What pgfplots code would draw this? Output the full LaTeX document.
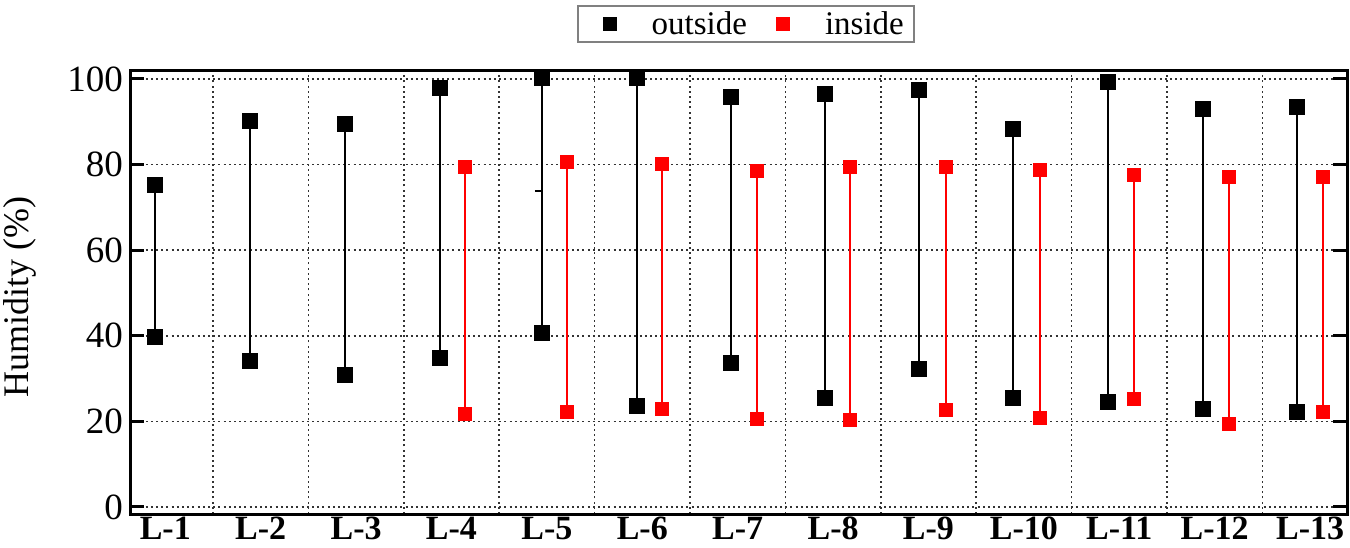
\documentclass[border=0pt]{standalone}
\usepackage{pgfplots}
\pgfplotsset{compat=1.18}
\usepackage{fontspec}
\setmainfont{Liberation Serif}

\definecolor{insidered}{RGB}{255,0,0}

\begin{document}
\begin{tikzpicture}
\useasboundingbox (0,0) rectangle (675pt,273.5pt);
\begin{axis}[
  at={(65pt,16.5pt)}, anchor=south west,
  scale only axis, width=608.5pt, height=222pt,
  xmin=0.63, xmax=13.387,
  ymin=-1.64, ymax=102.1,
  xtick={1,...,13},
  xticklabels={L-1,L-2,L-3,L-4,L-5,L-6,L-7,L-8,L-9,L-10,L-11,L-12,L-13},
  minor xtick={1.5,2.5,...,12.5},
  major x tick style={draw=none},
  minor x tick style={draw=none},
  ytick={0,20,...,100},
  ytick pos=both,
  tick align=inside,
  major tick length=7pt,
  y tick style={black, line width=1.5pt},
  xminorgrids=true, ymajorgrids=true,
  grid style={black!80, line width=0.8pt, dash pattern=on 1pt off 1.6pt},
  minor grid style={black!80, line width=0.8pt, dash pattern=on 1pt off 1.6pt},
  axis line style={line width=1.5pt},
  /pgf/number format/assume math mode=true,
  xticklabel style={font=\fontsize{17}{19}\selectfont\bfseries, yshift=2pt},
  yticklabel style={font=\fontsize{18.5}{20}\selectfont},
  ylabel={Humidity (\%)},
  ylabel style={font=\fontsize{18}{20}\selectfont, at={(axis description cs:-0.0904,0.489)}, anchor=center},
  unbounded coords=jump,
  legend columns=2,
  legend style={draw=gray, line width=0.8pt, at={(0.506,1.061)}, anchor=south,
    font=\fontsize{16.5}{18}\selectfont, inner xsep=3pt, inner ysep=0.5pt,
    /tikz/every even column/.append style={column sep=3pt}},
  legend image code/.code={\path[draw=none, fill=none] (0pt,-3pt) rectangle (32pt,3pt);
    \draw[#1] plot coordinates {(13pt,0pt)};},
]
\addlegendimage{only marks, mark=square*, mark size=3pt, black}
\addlegendentry{outside}
\addlegendimage{only marks, mark=square*, mark size=3pt, insidered}
\addlegendentry{inside}

% outside: low / high for each site
\addplot[black, line width=1pt, mark=square*, mark size=3.4pt, forget plot] coordinates {
  (0.892,39.7) (0.892,75.2) (0.892,nan)
  (1.888,34.1) (1.888,90.2) (1.888,nan)
  (2.884,30.8) (2.884,89.5) (2.884,nan)
  (3.880,34.8) (3.880,97.9) (3.880,nan)
  (4.949,40.6) (4.949,100.2) (4.949,nan)
  (5.945,23.6) (5.945,100.2) (5.945,nan)
  (6.930,33.6) (6.930,95.8) (6.930,nan)
  (7.915,25.5) (7.915,96.5) (7.915,nan)
  (8.901,32.3) (8.901,97.4) (8.901,nan)
  (9.886,25.5) (9.886,88.3) (9.886,nan)
  (10.882,24.5) (10.882,99.3) (10.882,nan)
  (11.878,22.9) (11.878,93.0) (11.878,nan)
  (12.864,22.2) (12.864,93.5)
};
% small stray dash on L-5
\addplot[black, line width=1pt, forget plot] coordinates {(4.875,73.8) (4.949,73.8)};

% inside: low / high
\addplot[insidered, line width=1pt, mark=square*, mark size=3.1pt, forget plot] coordinates {
  (4.142,21.7) (4.142,79.4) (4.142,nan)
  (5.211,22.2) (5.211,80.6) (5.211,nan)
  (6.207,22.9) (6.207,80.1) (6.207,nan)
  (7.202,20.6) (7.202,78.5) (7.202,nan)
  (8.177,20.3) (8.177,79.4) (8.177,nan)
  (9.183,22.7) (9.183,79.4) (9.183,nan)
  (10.169,20.8) (10.169,78.7) (10.169,nan)
  (11.154,25.2) (11.154,77.6) (11.154,nan)
  (12.150,19.4) (12.150,77.1) (12.150,nan)
  (13.135,22.2) (13.135,77.1)
};
\end{axis}
\end{tikzpicture}
\end{document}
